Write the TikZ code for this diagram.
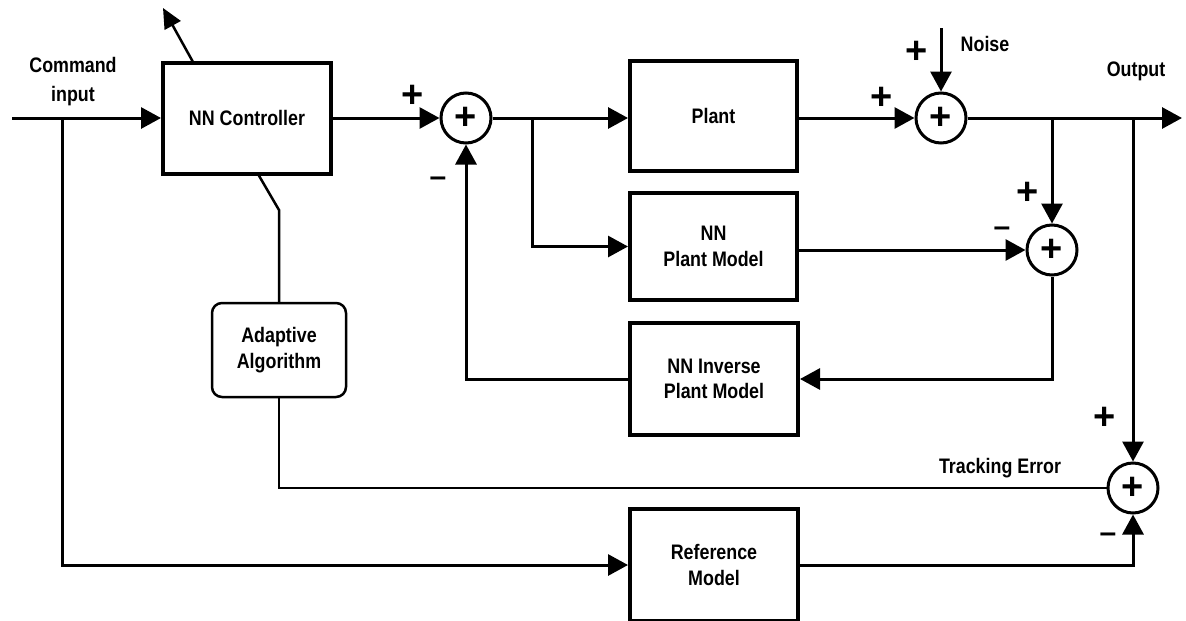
\documentclass[tikz,border=0pt]{standalone}
\usepackage{fontspec}
\setmainfont{Liberation Sans}[FakeStretch=0.85]
\newfontfamily\symf{Liberation Sans}
\usetikzlibrary{arrows.meta,positioning}
\newcommand\lblfont{\bfseries\fontsize{21}{25.5}\selectfont}
\newcommand\sgnfont{\symf\bfseries\fontsize{38}{38}\selectfont}
\newcommand\mnsfont{\symf\bfseries\fontsize{30}{30}\selectfont}
\begin{document}
\begin{tikzpicture}[x=1pt,y=-1pt,
  blk/.style={draw, line width=4pt, minimum width=168pt, minimum height=111pt, align=center, font=\lblfont, inner sep=0pt},
  sumn/.style={circle, draw, line width=3pt, minimum size=50pt, inner sep=0pt, font=\sgnfont},
  conn/.style={line width=3pt, -{Triangle[length=20pt,width=21pt]}},
  thinl/.style={line width=2.5pt},
  lbl/.style={font=\lblfont, align=center, inner sep=0pt},
  sgn/.style={font=\sgnfont, inner sep=0pt},
  mns/.style={font=\mnsfont, inner sep=0pt}]
\useasboundingbox[fill=white] (0,0) rectangle (1186,621);

% blocks
\node[blk] (ctrl) at (247,118) {NN Controller};
\node[blk, minimum width=167pt, minimum height=110pt] (plant) at (713.5,116) {Plant};
\node[blk, minimum width=167pt, minimum height=107pt] (nnpm) at (713.5,246.5) {NN\\Plant Model};
\node[blk, minimum height=112pt] (nnipm) at (714,379) {NN Inverse\\Plant Model};
\node[blk, minimum height=112pt] (ref) at (714,565) {Reference\\Model};
\node[draw, rounded corners=10pt, line width=2.5pt, minimum width=134pt, minimum height=94pt, align=center, font=\lblfont, inner sep=0pt] (adapt) at (279,350) {Adaptive\\Algorithm};

% summing junctions
\node[sumn] (s1) at (466,118) {+};
\node[sumn] (s2) at (941,118) {+};
\node[sumn] (s3) at (1052,250) {+};
\node[sumn] (s4) at (1133,488) {+};

% coordinates
\coordinate (in) at (12,118);
\coordinate (out) at (1182,118);
\coordinate (noise) at (941,28);
\coordinate (b0) at (62,118);
\coordinate (b1) at (532,118);
\coordinate (b2) at (1052,118);
\coordinate (b3) at (1133,118);
\coordinate (tip) at (163,8);
\coordinate (k0) at (193,62);
\coordinate (k1) at (258,174);
\coordinate (k2) at (279,210);

% connectors
\draw[conn] (in) -- (ctrl.west);
\draw[conn] (ctrl.east) -- (s1.west);
\draw[conn] (s1.east) -- (plant.west |- s1.east);
\draw[conn] (b1) |- (nnpm.west);
\draw[conn] (plant.east |- s2.west) -- (s2.west);
\draw[conn] (noise) -- (s2.north);
\draw[conn] (s2.east) -- (out);
\draw[conn] (b2) -- (s3.north);
\draw[conn] (nnpm.east |- s3.west) -- (s3.west);
\draw[conn] (s3.south) |- (nnipm.east);
\draw[conn] (nnipm.west) -| (s1.south);
\draw[conn] (b3) -- (s4.north);
\draw[conn] (ref.east) -| (s4.south);
\draw[conn] (b0) |- (ref.west);
\draw[thinl] (k1) -- (k2) -- (adapt.north);
\draw[thinl] (adapt.south) |- (s4.west);
\draw[thinl, -{Triangle[length=20pt,width=18pt]}] (k0) -- (tip);

% labels
\node[lbl, font=\bfseries\fontsize{21}{29}\selectfont] (cmd) at (73,82) {Command\\input};
\node[lbl] (outl) at (1136,71) {Output};
\node[lbl] (noisel) at (985,44) {Noise};
\node[lbl] (trk) at (1000,468) {Tracking Error};

% signs
\node[sgn] (p1) at (413,96) {+};
\node[mns] (m1) at (438,182) {\textendash};
\node[sgn] (p2) at (882,98) {+};
\node[sgn] (p3) at (917,52) {+};
\node[sgn] (p4) at (1028,193) {+};
\node[mns] (m4) at (1002,232) {\textendash};
\node[sgn] (p5) at (1105,418) {+};
\node[mns] (m5) at (1108,538) {\textendash};
\end{tikzpicture}
\end{document}
